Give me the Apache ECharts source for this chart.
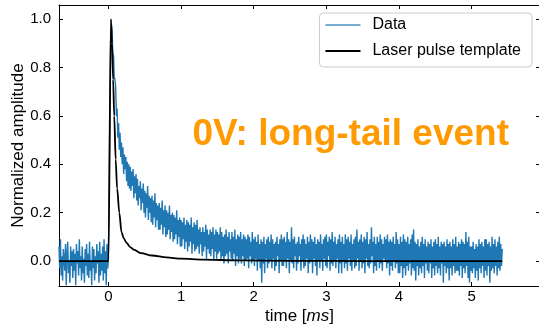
<!DOCTYPE html>
<html>
<head>
<meta charset="utf-8">
<script src="https://cdn.jsdelivr.net/npm/echarts@6/dist/echarts.min.js"></script>
<style>
  html, body { margin: 0; padding: 0; background: #fff; }
  #chart { width: 539px; height: 327px; }
</style>
</head>
<body>
<div id="chart"></div>
<script>
// sampled trace: starts at timeStart, one value every timeStep (ms)
const timeStart = -0.68;
const timeStep = 0.01;
const dataValues = [
  // pre-trigger baseline (-0.68 .. -0.01)
  0.06, -0.03, 0.09, -0.06, 0.02, -0.08, 0.05, 0.01, -0.04, 0.07, -0.10, 0.03, 0.08, -0.05, 0.00, -0.09, 0.06, -0.02, 0.04, -0.07,
  0.05, -0.04, 0.03, -0.10, 0.07, -0.01, 0.04, -0.06, 0.09, -0.03, 0.02, -0.08, 0.06, -0.05, 0.01, -0.09, 0.05, -0.02, 0.07, -0.06,
  0.03, -0.07, 0.08, -0.04, 0.00, -0.10, 0.06, -0.03, 0.05, -0.08, 0.02, -0.05, 0.07, -0.01, 0.04, -0.09, 0.08, -0.06, 0.03, -0.04,
  0.06, -0.08, 0.09, -0.05, 0.04, -0.10, 0.07, -0.03,
  // pulse (0.00 ..)
  0.01, 0.30, 0.62, 0.90, 0.98, 0.95, 0.86, 0.85, 0.76, 0.75,
  0.72, 0.60, 0.63, 0.51, 0.57, 0.46, 0.53, 0.43, 0.49, 0.40,
  0.47, 0.36, 0.44, 0.38, 0.43, 0.33, 0.41, 0.31, 0.40, 0.30,
  0.39, 0.29, 0.37, 0.31, 0.38, 0.26, 0.35, 0.28, 0.36, 0.25,
  0.34, 0.23, 0.31, 0.26, 0.33, 0.21, 0.30, 0.24, 0.32, 0.20,
  0.29, 0.18, 0.28, 0.22, 0.31, 0.17, 0.27, 0.20, 0.26, 0.16,
  0.27, 0.15, 0.25, 0.18, 0.28, 0.14, 0.24, 0.17, 0.23, 0.13,
  0.24, 0.13, 0.22, 0.15, 0.25, 0.11, 0.21, 0.14, 0.23, 0.10,
  0.21, 0.11, 0.20, 0.13, 0.23, 0.09, 0.19, 0.12, 0.20, 0.08,
  0.19, 0.09, 0.18, 0.11, 0.21, 0.07, 0.17, 0.10, 0.18, 0.06,
  // tail (1.00 ..)
  0.17, 0.06, 0.16, 0.09, 0.18, 0.05, 0.15, 0.08, 0.17, 0.04,
  0.16, 0.06, 0.15, 0.08, 0.18, 0.03, 0.14, 0.07, 0.16, 0.04,
  0.15, 0.05, 0.17, 0.06, 0.13, 0.03, 0.14, 0.07, 0.12, 0.02,
  0.14, 0.04, 0.12, 0.06, 0.15, 0.01, 0.13, 0.05, 0.11, 0.03,
  0.13, 0.02, 0.12, 0.05, 0.14, 0.00, 0.11, 0.04, 0.13, 0.01,
  0.12, 0.03, 0.11, 0.04, 0.14, 0.00, 0.12, 0.02, 0.10, -0.01,
  0.11, 0.02, 0.13, 0.03, 0.10, -0.01, 0.12, 0.04, 0.09, 0.01,
  0.12, 0.00, 0.10, 0.03, 0.13, -0.02, 0.09, 0.02, 0.11, -0.01,
  0.10, 0.01, 0.12, -0.01, 0.09, 0.02, 0.11, -0.02, 0.10, 0.00,
  0.09, 0.01, 0.11, -0.03, 0.10, 0.02, 0.08, -0.01, 0.12, 0.00,
  // 2.00 ..
  0.09, -0.02, 0.10, 0.01, 0.08, -0.04, 0.11, 0.00, 0.07, -0.03,
  0.09, -0.09, 0.08, -0.01, 0.10, -0.05, 0.07, 0.01, 0.09, -0.03,
  0.10, -0.01, 0.08, 0.00, 0.11, -0.03, 0.09, 0.01, 0.07, -0.04,
  0.08, -0.02, 0.10, 0.02, 0.07, -0.05, 0.09, 0.00, 0.11, -0.02,
  0.09, -0.02, 0.10, 0.00, 0.08, -0.03, 0.12, 0.01, 0.09, -0.05,
  0.08, 0.00, 0.14, -0.01, 0.09, -0.03, 0.10, 0.02, 0.07, -0.04,
  0.08, -0.01, 0.10, 0.02, 0.07, -0.04, 0.09, 0.00, 0.11, -0.03,
  0.09, -0.02, 0.07, 0.01, 0.10, -0.05, 0.08, -0.01, 0.11, 0.00,
  0.09, -0.05, 0.08, 0.01, 0.10, -0.02, 0.07, -0.06, 0.09, 0.00,
  0.08, -0.03, 0.11, 0.00, 0.07, -0.04, 0.09, 0.01, 0.10, -0.02,
  // 3.00 ..
  0.11, -0.03, 0.08, 0.02, 0.10, -0.04, 0.09, -0.01, 0.12, -0.02,
  0.08, 0.00, 0.10, -0.03, 0.07, 0.01, 0.09, -0.05, 0.11, -0.01,
  0.08, -0.05, 0.10, 0.00, 0.07, -0.03, 0.11, -0.01, 0.09, -0.04,
  0.10, 0.01, 0.08, -0.02, 0.11, -0.04, 0.07, 0.00, 0.09, -0.03,
  0.10, -0.02, 0.13, 0.01, 0.08, -0.04, 0.09, 0.00, 0.11, -0.03,
  0.08, -0.01, 0.10, -0.05, 0.09, 0.01, 0.12, -0.02, 0.07, -0.03,
  0.09, -0.01, 0.14, 0.02, 0.08, -0.05, 0.10, -0.02, 0.07, -0.04,
  0.10, 0.00, 0.08, -0.03, 0.11, -0.01, 0.09, -0.04, 0.07, 0.01,
  0.10, 0.00, 0.09, -0.03, 0.11, -0.01, 0.08, -0.06, 0.09, -0.02,
  0.08, -0.04, 0.10, 0.00, 0.07, -0.03, 0.12, -0.01, 0.09, -0.05,
  // 4.00 ..
  0.07, -0.05, 0.10, -0.02, 0.08, -0.07, 0.11, -0.03, 0.09, -0.06,
  0.08, -0.02, 0.10, -0.04, 0.07, -0.01, 0.09, -0.06, 0.11, -0.03,
  0.13, -0.04, 0.08, -0.08, 0.07, -0.02, 0.09, -0.06, 0.06, -0.03,
  0.08, -0.05, 0.10, -0.02, 0.07, -0.07, 0.09, -0.01, 0.06, -0.04,
  0.08, -0.05, 0.07, -0.01, 0.09, -0.07, 0.06, -0.03, 0.08, -0.06,
  0.09, -0.02, 0.07, -0.05, 0.10, -0.03, 0.06, -0.06, 0.08, -0.01,
  0.07, -0.09, 0.08, -0.02, 0.06, -0.05, 0.09, -0.03, 0.07, -0.08,
  0.08, -0.03, 0.06, -0.06, 0.09, -0.02, 0.07, -0.05, 0.10, -0.04,
  0.06, -0.04, 0.08, -0.06, 0.07, -0.02, 0.09, -0.07, 0.08, -0.03,
  0.07, -0.05, 0.12, -0.02, 0.08, -0.07, 0.10, -0.09, 0.06, -0.04,
  // 5.00 ..
  0.06, -0.05, 0.08, -0.03, 0.05, -0.07, 0.07, -0.04, 0.06, -0.08,
  0.09, -0.03, 0.07, -0.05, 0.08, -0.02, 0.06, -0.07, 0.09, -0.04,
  0.09, -0.06, 0.07, -0.02, 0.08, -0.09, 0.06, -0.04, 0.10, -0.03,
  0.07, -0.05, 0.09, -0.02, 0.06, -0.06, 0.08, -0.03, 0.10, -0.04,
  0.07, -0.02, 0.05
];

const templateTimes = [-0.68, 0.0, 0.035, 0.05, 0.065, 0.08, 0.1, 0.12, 0.15, 0.18, 0.21,
  0.25, 0.3, 0.35, 0.45, 0.6, 0.8, 1.0, 1.3, 1.8, 2.5, 3.5, 5.42];
const templateValues = [0, 0, 1.0, 0.9, 0.75, 0.6, 0.42, 0.3, 0.2, 0.12, 0.095,
  0.075, 0.058, 0.047, 0.033, 0.023, 0.015, 0.01, 0.006, 0.003, 0.001, 0, 0];

const xTicks = [0, 1, 2, 3, 4, 5];
const yTicks = [0, 0.2, 0.4, 0.6, 0.8, 1.0];
const xRange = [-0.68, 5.94];
const yRange = [-0.103, 1.058];

const font = "Liberation Sans, Arial, sans-serif";

const dataPoints = dataValues.map((v, i) => [timeStart + i * timeStep, v]);
const templatePoints = templateTimes.map((t, i) => [t, templateValues[i]]);

const tickStyle = { inside: true, length: 4, lineStyle: { color: "#000", width: 1 } };
const lineAxis = { show: true, onZero: false, lineStyle: { color: "#000", width: 1 } };

const chart = echarts.init(document.getElementById("chart"), null, { renderer: "canvas" });
chart.setOption({
  animation: false,
  grid: { left: 59, top: 5, width: 481, height: 281, outerBoundsMode: "none", containLabel: false },
  legend: {
    orient: "vertical",
    right: 7,
    top: 13,
    padding: [3, 11, 7, 6],
    itemGap: 8,
    itemWidth: 35,
    itemHeight: 2,
    icon: "rect",
    backgroundColor: "rgba(255,255,255,0.8)",
    borderColor: "#cccccc",
    borderWidth: 1,
    borderRadius: 4,
    textStyle: { fontFamily: font, fontSize: 16, lineHeight: 18, color: "#000", padding: [0, 0, 0, 7] },
    data: [
      { name: "Data", itemStyle: { color: "#1f77b4", opacity: 0.6 } },
      { name: "Laser pulse template", itemStyle: { color: "#000" } }
    ]
  },
  xAxis: [
    {
      type: "value",
      min: xRange[0],
      max: xRange[1],
      axisLine: lineAxis,
      axisTick: Object.assign({ customValues: xTicks }, tickStyle),
      axisLabel: {
        customValues: xTicks,
        margin: 3,
        fontFamily: font,
        fontSize: 15,
        color: "#000"
      },
      splitLine: { show: false },
      name: "time [{i|ms}]",
      nameLocation: "middle",
      nameGap: 22,
      nameMoveOverlap: false,
      nameTextStyle: {
        fontFamily: font,
        fontSize: 17,
        color: "#000",
        rich: { i: { fontFamily: font, fontSize: 17, fontStyle: "italic", color: "#000" } }
      }
    },
    {
      type: "value",
      position: "top",
      min: xRange[0],
      max: xRange[1],
      axisLine: lineAxis,
      axisTick: Object.assign({ customValues: xTicks }, tickStyle),
      axisLabel: { show: false },
      splitLine: { show: false }
    }
  ],
  yAxis: [
    {
      type: "value",
      min: yRange[0],
      max: yRange[1],
      axisLine: lineAxis,
      axisTick: Object.assign({ customValues: yTicks }, tickStyle),
      axisLabel: {
        customValues: yTicks,
        margin: 8,
        fontFamily: font,
        fontSize: 15,
        color: "#000",
        formatter: (v) => v.toFixed(1)
      },
      splitLine: { show: false },
      name: "Normalized amplitude",
      nameLocation: "middle",
      nameGap: 32,
      nameMoveOverlap: false,
      nameTextStyle: { fontFamily: font, fontSize: 17, color: "#000" }
    },
    {
      type: "value",
      position: "right",
      min: yRange[0],
      max: yRange[1],
      axisLine: lineAxis,
      axisTick: Object.assign({ customValues: yTicks }, tickStyle),
      axisLabel: { show: false },
      splitLine: { show: false }
    }
  ],
  graphic: [
    {
      type: "text",
      z: 100,
      style: {
        x: 509,
        y: 135,
        text: "0V: long-tail event",
        fill: "#ff9a00",
        font: "bold 37px " + font,
        textAlign: "right",
        textVerticalAlign: "middle"
      }
    }
  ],
  series: [
    {
      name: "Data",
      type: "line",
      data: dataPoints,
      showSymbol: false,
      symbol: "none",
      color: "#1f77b4",
      lineStyle: { color: "#1f77b4", width: 1.4 },
      z: 2
    },
    {
      name: "Laser pulse template",
      type: "line",
      data: templatePoints,
      showSymbol: false,
      symbol: "none",
      smooth: 0.3,
      smoothMonotone: "x",
      color: "#000",
      lineStyle: { color: "#000", width: 1.8 },
      z: 3
    }
  ]
});
</script>
</body>
</html>
